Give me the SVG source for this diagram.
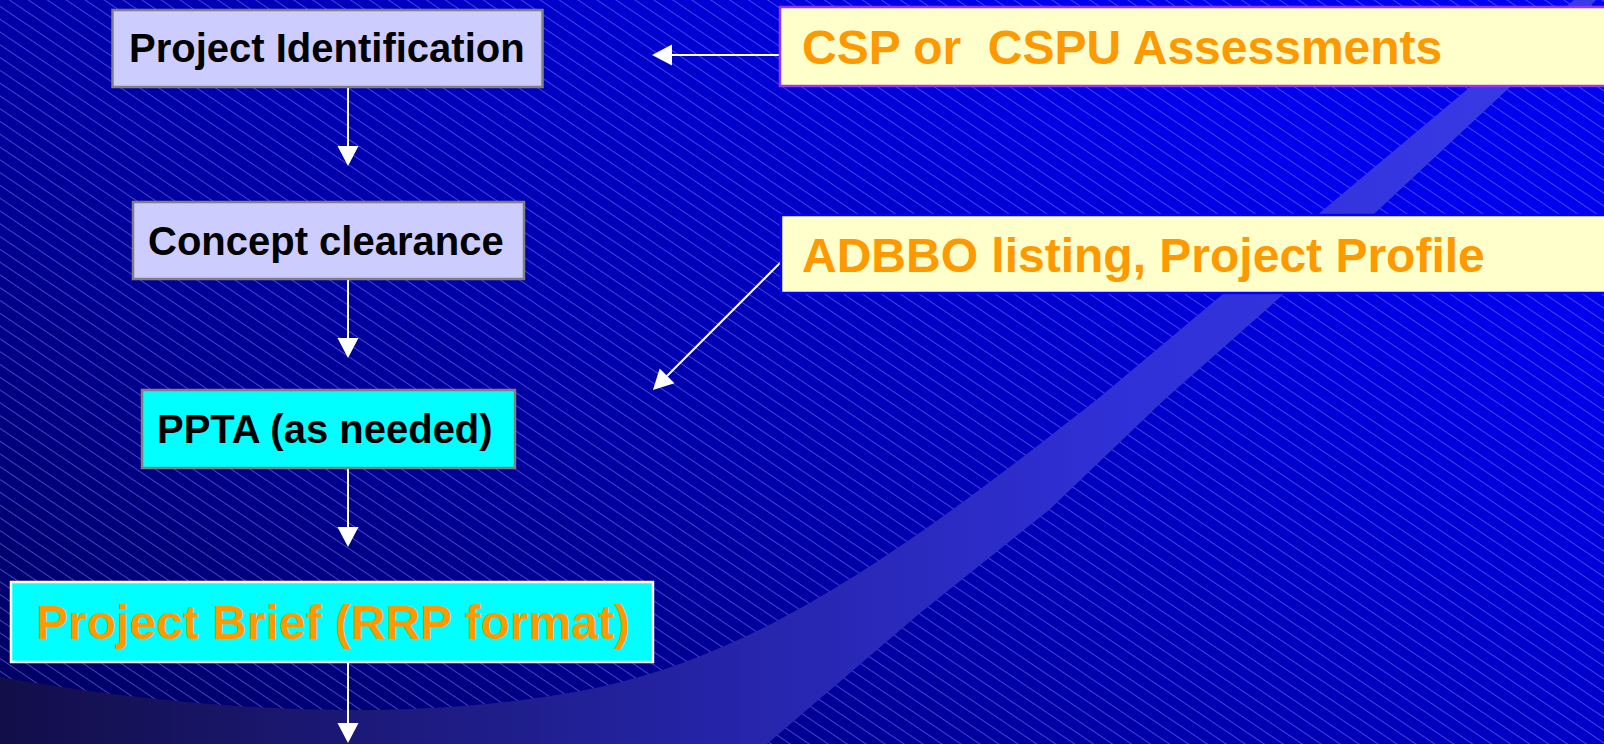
<svg xmlns="http://www.w3.org/2000/svg" width="1604" height="744" viewBox="0 0 1604 744">
  <style>
    .lbl { font-family: "Liberation Sans", Arial, sans-serif; font-weight: bold; }
    .dark { fill: #000000; font-size: 40px; }
    .orange { fill: #ff9900; font-size: 48px; }
    .lav { fill: #ccccff; stroke: #808080; stroke-width: 2.5; }
    .cyan { fill: #00ffff; stroke: #808080; stroke-width: 2.5; }
    .cream { fill: #ffffcc; stroke-width: 2.5; }
    .conn { stroke: #ffffff; stroke-width: 2; fill: none; marker-end: url(#head); }
  </style>
  <defs>
    <linearGradient id="bg" gradientUnits="userSpaceOnUse" x1="0" y1="744" x2="833" y2="-511">
      <stop offset="0" stop-color="#00005e"/>
      <stop offset="0.79" stop-color="#0000ec"/>
      <stop offset="1" stop-color="#0004f0"/>
    </linearGradient>
    <linearGradient id="swoosh" gradientUnits="userSpaceOnUse" x1="0" y1="0" x2="1604" y2="0">
      <stop offset="0" stop-color="#120e48"/>
      <stop offset="0.45" stop-color="#2524a8"/>
      <stop offset="0.7" stop-color="#3030d8"/>
      <stop offset="1" stop-color="#3a3ae8"/>
    </linearGradient>
    <pattern id="hatch" patternUnits="userSpaceOnUse" width="40" height="10.6" patternTransform="rotate(34)">
      <line x1="-1" y1="5.3" x2="41" y2="5.3" stroke="#8c8cff" stroke-width="0.9" stroke-opacity="0.55"/>
    </pattern>
    <marker id="head" markerUnits="userSpaceOnUse" markerWidth="20" markerHeight="21" refX="10" refY="10.5" orient="auto" overflow="visible">
      <path d="M0,0 L20,10.5 L0,21 Z" fill="#ffffff"/>
    </marker>
  </defs>

  <g id="background">
    <rect x="0" y="0" width="1604" height="744" fill="url(#bg)"/>
    <rect x="0" y="0" width="1604" height="744" fill="url(#hatch)"/>
    <path d="M0,677 C200,712 420,725 600,687 C760,652 900,555 1100,397 L1574,0 L1604,0 L1604,-8 L1510,87 L1375,213 L1277,300 L1164,400 L1049,510 L920,613 L767,744 L0,744 Z" fill="url(#swoosh)"/>
  </g>

  <g id="connectors">
    <line class="conn" x1="348" y1="87" x2="348" y2="156"/>
    <line class="conn" x1="348" y1="279" x2="348" y2="348"/>
    <line class="conn" x1="348" y1="468" x2="348" y2="537"/>
    <line class="conn" x1="348" y1="662" x2="348" y2="733"/>
    <line class="conn" x1="780" y1="55" x2="662" y2="55"/>
    <line class="conn" x1="781" y1="262" x2="660" y2="383"/>
  </g>

  <g id="node-project-identification">
    <rect class="lav" x="112.5" y="10" width="430" height="77"/>
    <text class="lbl dark" x="129" y="62">Project Identification</text>
  </g>
  <g id="node-concept-clearance">
    <rect class="lav" x="133" y="202" width="391" height="77"/>
    <text class="lbl dark" x="148" y="255">Concept clearance</text>
  </g>
  <g id="node-ppta">
    <rect class="cyan" x="142" y="390" width="373" height="78"/>
    <text class="lbl dark" x="157" y="443">PPTA (as needed)</text>
  </g>
  <g id="node-project-brief">
    <rect class="cyan" x="11" y="582" width="642" height="80" style="stroke:#ffffff"/>
    <text class="lbl orange" x="36" y="639">Project Brief (RRP format)</text>
  </g>
  <g id="node-csp">
    <rect class="cream" x="780" y="7" width="840" height="79" stroke="#9933ff"/>
    <text class="lbl orange" x="802" y="63.5" xml:space="preserve" style="white-space:pre">CSP or  CSPU Assessments</text>
  </g>
  <g id="node-adbbo">
    <rect class="cream" x="781" y="215" width="840" height="78" stroke="#0000ff"/>
    <text class="lbl orange" x="802" y="272">ADBBO listing, Project Profile</text>
  </g>
</svg>
